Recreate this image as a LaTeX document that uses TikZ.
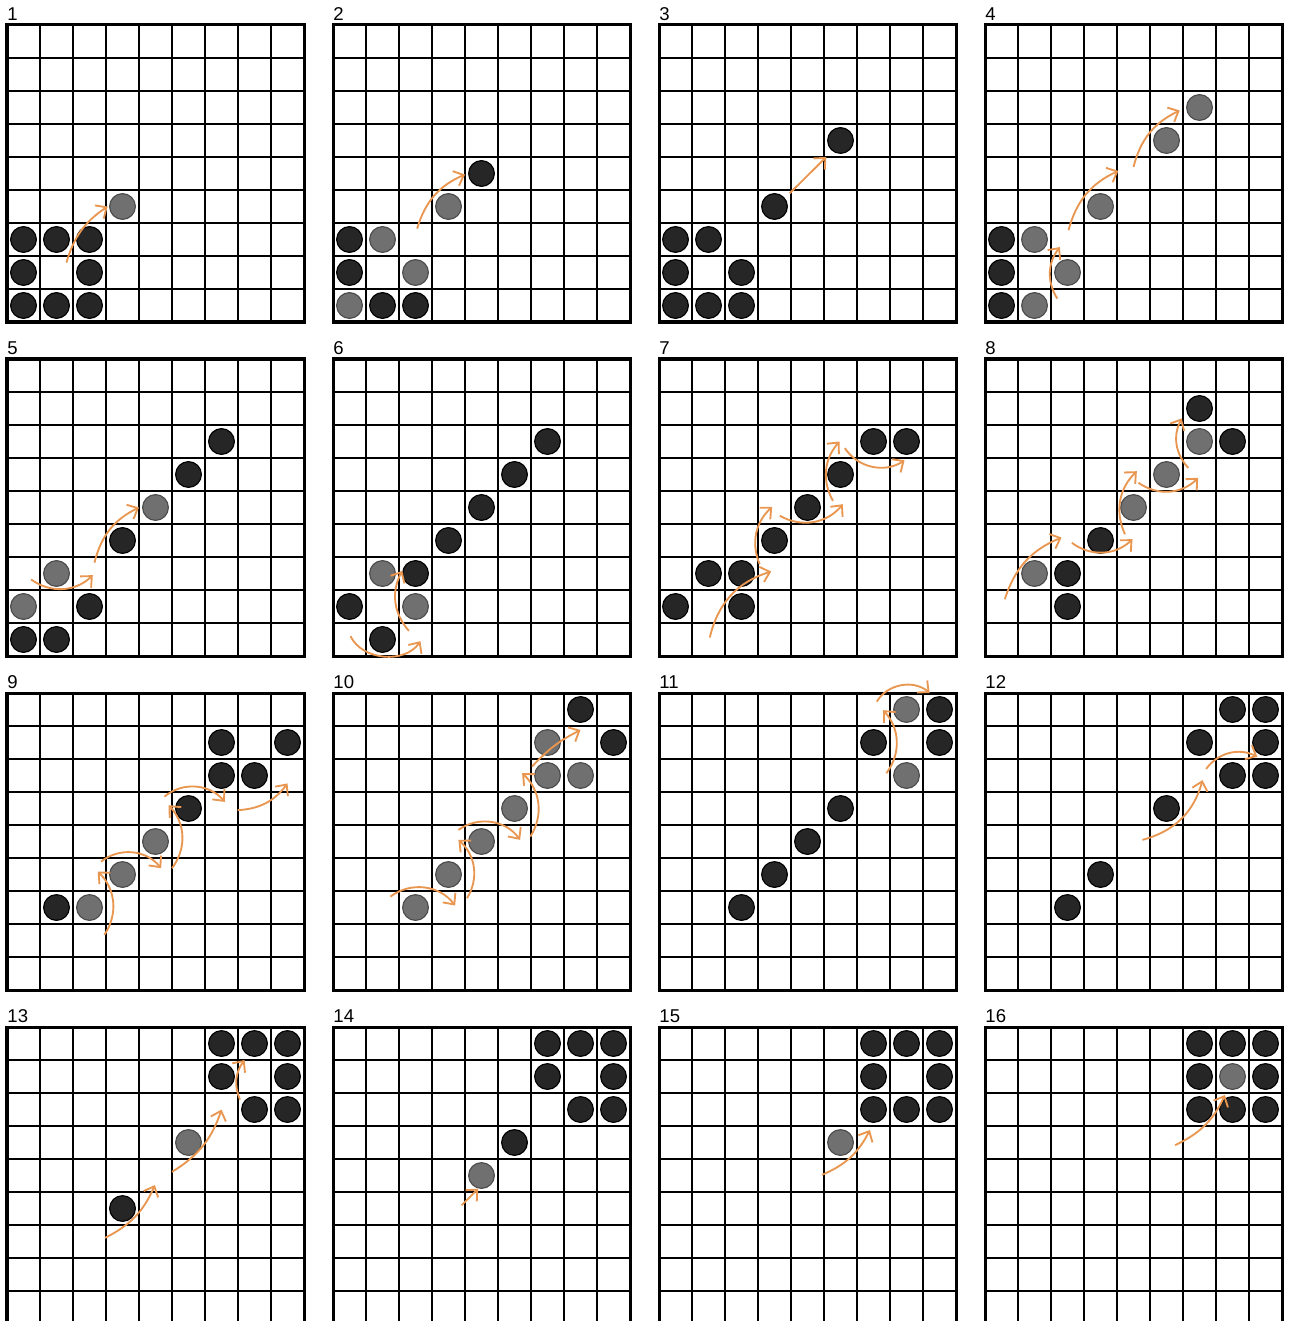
\documentclass[tikz,border=0pt]{standalone}
\usepackage{fontspec}
\setmainfont{Liberation Sans}
\usetikzlibrary{arrows.meta}

\definecolor{moveorange}{RGB}{232,150,80}
\definecolor{stonegray}{RGB}{112,112,112}

\tikzset{
  gridline/.style={line width=0.9pt},
  frame/.style={line width=1.3pt},
  stone/.style={circle, line width=0.5pt, minimum size=0.39cm, inner sep=0pt},
  bstone/.style={stone, fill=black!85, draw=black},
  gstone/.style={stone, fill=stonegray, draw=black!70},
  move/.style={moveorange, line width=0.8pt, -{Straight Barb[length=1.3mm,width=2.4mm]}},
  numlabel/.style={anchor=south west, inner sep=0pt, font=\fontsize{8}{9}\selectfont},
}

% one 9x9 board with its number
\newcommand{\board}[1]{%
  \foreach \k in {1,...,8} {
    \draw[gridline] (\k,0) -- (\k,9);
    \draw[gridline] (0,\k) -- (9,\k);
  }
  \draw[frame] (0,0) rectangle (9,9);
  \node[numlabel] (lab#1) at (0,9.12) {#1};
}

\begin{document}
\begin{tikzpicture}[x=0.5cm, y=0.5cm]
  \useasboundingbox (0,0) rectangle (39.15,-40.03);

  % 1
  \begin{scope}[shift={({7/33},{-322/33})}]
    \board{1}
    \foreach \c/\r in {1/1,2/1,3/1,1/2,3/2,1/3,2/3,3/3}
      \node[bstone] (p1b\c\r) at (\c-0.5,\r-0.5) {};
    \node[gstone] (p1g44) at (3.5,3.5) {};
    \draw[move] (1.8,1.8) to[bend left=20] (3.05,3.5);
  \end{scope}

  % 2
  \begin{scope}[shift={({333/33},{-322/33})}]
    \board{2}
    \foreach \c/\r in {1/3,1/2,2/1,3/1,5/5}
      \node[bstone] (p2b\c\r) at (\c-0.5,\r-0.5) {};
    \foreach \c/\r in {2/3,3/2,1/1,4/4}
      \node[gstone] (p2g\c\r) at (\c-0.5,\r-0.5) {};
    \draw[move] (2.55,2.83) to[bend left=25] (4.0,4.47);
  \end{scope}

  % 3
  \begin{scope}[shift={({659/33},{-322/33})}]
    \board{3}
    \foreach \c/\r in {1/3,2/3,1/2,3/2,1/1,2/1,3/1,4/4,6/6}
      \node[bstone] (p3b\c\r) at (\c-0.5,\r-0.5) {};
    \draw[move] (3.96,3.9) -- (5.07,5.0);
  \end{scope}

  % 4
  \begin{scope}[shift={({985/33},{-322/33})}]
    \board{4}
    \foreach \c/\r in {1/3,1/2,1/1}
      \node[bstone] (p4b\c\r) at (\c-0.5,\r-0.5) {};
    \foreach \c/\r in {2/3,3/2,2/1,4/4,6/6,7/7}
      \node[gstone] (p4g\c\r) at (\c-0.5,\r-0.5) {};
    \draw[move] (2.19,0.71) to[bend left=35] (2.27,2.27);
    \draw[move] (2.53,2.78) to[bend left=25] (4.04,4.58);
    \draw[move] (4.5,4.7) to[bend left=25] (5.9,6.41);
  \end{scope}

  % 5
  \begin{scope}[shift={({7/33},{-656/33})}]
    \board{5}
    \foreach \c/\r in {1/1,2/1,3/2,4/4,6/6,7/7}
      \node[bstone] (p5b\c\r) at (\c-0.5,\r-0.5) {};
    \foreach \c/\r in {1/2,2/3,5/5}
      \node[gstone] (p5g\c\r) at (\c-0.5,\r-0.5) {};
    \draw[move] (0.73,2.32) to[bend right=40] (2.6,2.45);
    \draw[move] (2.65,2.83) to[bend left=25] (4.0,4.5);
  \end{scope}

  % 6
  \begin{scope}[shift={({333/33},{-656/33})}]
    \board{6}
    \foreach \c/\r in {1/2,2/1,3/3,4/4,5/5,6/6,7/7}
      \node[bstone] (p6b\c\r) at (\c-0.5,\r-0.5) {};
    \foreach \c/\r in {2/3,3/2}
      \node[gstone] (p6g\c\r) at (\c-0.5,\r-0.5) {};
    \draw[move] (0.53,0.6) to[bend right=60] (2.65,0.45);
    \draw[move] (2.3,0.76) to[bend left=35] (2.1,2.58);
  \end{scope}

  % 7
  \begin{scope}[shift={({659/33},{-656/33})}]
    \board{7}
    \foreach \c/\r in {1/2,2/3,3/3,3/2,4/4,5/5,6/6,7/7,8/7}
      \node[bstone] (p7b\c\r) at (\c-0.5,\r-0.5) {};
    \draw[move] (1.54,0.56) to[bend left=30] (3.4,2.56);
    \draw[move] (3.05,2.78) to[bend left=35] (3.43,4.52);
    \draw[move] (3.66,4.25) to[bend right=40] (5.57,4.6);
    \draw[move] (5.27,4.7) to[bend left=35] (5.47,6.5);
    \draw[move] (5.63,6.3) to[bend right=45] (7.44,5.93);
  \end{scope}

  % 8
  \begin{scope}[shift={({985/33},{-656/33})}]
    \board{8}
    \foreach \c/\r in {3/3,3/2,4/4,7/8,8/7}
      \node[bstone] (p8b\c\r) at (\c-0.5,\r-0.5) {};
    \foreach \c/\r in {2/3,5/5,6/6,7/7}
      \node[gstone] (p8g\c\r) at (\c-0.5,\r-0.5) {};
    \draw[move] (0.6,1.72) to[bend left=25] (2.32,3.59);
    \draw[move] (2.63,3.43) to[bend right=40] (4.47,3.54);
    \draw[move] (4.24,3.69) to[bend left=35] (4.6,5.6);
    \draw[move] (4.65,5.25) to[bend right=40] (6.46,5.4);
    \draw[move] (6.16,5.7) to[bend left=35] (5.96,7.2);
  \end{scope}

  % 9
  \begin{scope}[shift={({7/33},{-990/33})}]
    \board{9}
    \foreach \c/\r in {2/3,6/6,7/7,7/8,8/7,9/8}
      \node[bstone] (p9b\c\r) at (\c-0.5,\r-0.5) {};
    \foreach \c/\r in {3/3,4/4,5/5}
      \node[gstone] (p9g\c\r) at (\c-0.5,\r-0.5) {};
    \draw[move] (2.95,1.67) to[bend right=40] (2.75,3.59);
    \draw[move] (2.85,3.89) to[bend left=45] (4.67,3.69);
    \draw[move] (5.0,3.69) to[bend right=40] (4.9,5.6);
    \draw[move] (4.77,5.86) to[bend left=45] (6.6,5.7);
    \draw[move] (6.99,5.45) to[bend right=25] (8.5,6.26);
  \end{scope}

  % 10
  \begin{scope}[shift={({333/33},{-990/33})}]
    \board{10}
    \foreach \c/\r in {8/9,9/8}
      \node[bstone] (p10b\c\r) at (\c-0.5,\r-0.5) {};
    \foreach \c/\r in {3/3,4/4,5/5,6/6,7/7,7/8,8/7}
      \node[gstone] (p10g\c\r) at (\c-0.5,\r-0.5) {};
    \draw[move] (1.74,2.83) to[bend left=45] (3.7,2.56);
    \draw[move] (4.06,2.78) to[bend right=40] (3.8,4.55);
    \draw[move] (3.8,4.85) to[bend left=45] (5.67,4.55);
    \draw[move] (5.98,4.65) to[bend right=40] (5.73,6.57);
    \draw[move] (6.03,6.77) to[bend left=10] (7.5,7.88);
  \end{scope}

  % 11
  \begin{scope}[shift={({659/33},{-990/33})}]
    \board{11}
    \foreach \c/\r in {3/3,4/4,5/5,6/6,7/8,9/9,9/8}
      \node[bstone] (p11b\c\r) at (\c-0.5,\r-0.5) {};
    \foreach \c/\r in {8/9,8/7}
      \node[gstone] (p11g\c\r) at (\c-0.5,\r-0.5) {};
    \draw[move] (6.89,6.57) to[bend right=40] (6.79,8.48);
    \draw[move] (6.6,8.74) to[bend left=50] (8.2,9.0);
  \end{scope}

  % 12
  \begin{scope}[shift={({985/33},{-990/33})}]
    \board{12}
    \foreach \c/\r in {3/3,4/4,6/6,7/8,8/9,9/9,9/8,8/7,9/7}
      \node[bstone] (p12b\c\r) at (\c-0.5,\r-0.5) {};
    \draw[move] (4.77,4.55) to[bend right=30] (6.59,6.36);
    \draw[move] (6.7,6.7) to[bend left=40] (8.25,7.07);
  \end{scope}

  % 13
  \begin{scope}[shift={({7/33},{-1324/33})}]
    \board{13}
    \foreach \c/\r in {7/9,8/9,9/9,7/8,9/8,8/7,9/7,4/4}
      \node[bstone] (p13b\c\r) at (\c-0.5,\r-0.5) {};
    \node[gstone] (p13g66) at (5.5,5.5) {};
    \draw[move] (2.97,2.61) to[bend right=20] (4.48,4.21);
    \draw[move] (5.0,4.61) to[bend right=20] (6.5,6.5);
    \draw[move] (7.06,6.8) to[bend left=30] (7.2,8.0);
  \end{scope}

  % 14
  \begin{scope}[shift={({333/33},{-1324/33})}]
    \board{14}
    \foreach \c/\r in {7/9,8/9,9/9,7/8,9/8,8/7,9/7,6/6}
      \node[bstone] (p14b\c\r) at (\c-0.5,\r-0.5) {};
    \node[gstone] (p14g55) at (4.5,4.5) {};
    \draw[move] (3.9,3.6) -- (4.4,4.1);
  \end{scope}

  % 15
  \begin{scope}[shift={({659/33},{-1324/33})}]
    \board{15}
    \foreach \c/\r in {7/9,8/9,9/9,7/8,9/8,7/7,8/7,9/7}
      \node[bstone] (p15b\c\r) at (\c-0.5,\r-0.5) {};
    \node[gstone] (p15g66) at (5.5,5.5) {};
    \draw[move] (4.94,4.52) to[bend right=20] (6.39,5.88);
  \end{scope}

  % 16
  \begin{scope}[shift={({985/33},{-1324/33})}]
    \board{16}
    \foreach \c/\r in {7/9,8/9,9/9,7/8,9/8,7/7,8/7,9/7}
      \node[bstone] (p16b\c\r) at (\c-0.5,\r-0.5) {};
    \node[gstone] (p16g88) at (7.5,7.5) {};
    \draw[move] (5.76,5.42) to[bend right=20] (7.27,6.94);
  \end{scope}
\end{tikzpicture}
\end{document}
